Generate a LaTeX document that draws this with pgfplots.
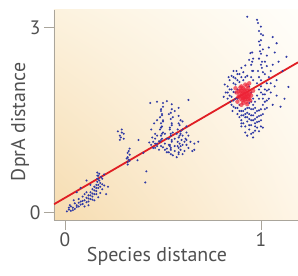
\documentclass[border=0pt]{standalone}
\usepackage{pgfplots}
\pgfplotsset{compat=1.18}
\usepackage{fontspec}
\setmainfont{PT Sans}
\usetikzlibrary{shadings}
\definecolor{dotblue}{RGB}{48,58,165}
\definecolor{dotred}{RGB}{238,36,56}
\definecolor{fitred}{RGB}{224,30,36}
\definecolor{txtgray}{RGB}{80,80,80}
\definecolor{axgray}{RGB}{170,165,155}
\begin{document}
\begin{tikzpicture}
\begin{axis}[
  at={(0,0)}, anchor=south west,
  scale only axis, width=244bp, height=210bp,
  xmin=-0.056, xmax=1.189, ymin=-0.12, ymax=3.29,
  axis x line*=bottom, axis y line*=left,
  axis line style={-, draw=axgray, line width=0.9bp},
  xtick={0,1}, ytick={0,3},
  tick align=outside, major tick length=10bp,
  tick style={draw=axgray, line width=0.9bp},
  /pgf/number format/assume math mode=true,
  tick label style={font=\fontsize{19.5}{22}\selectfont, text=txtgray},
  xticklabel style={yshift=1bp},
  xlabel={Species distance}, ylabel={DprA distance},
  label style={font=\fontsize{20}{24}\selectfont, text=txtgray},
  xlabel style={at={(axis description cs:0.422,-0.171)}, anchor=center},
  ylabel style={at={(axis description cs:-0.139,0.467)}, anchor=center, rotate=0},
  axis background/.style={shading=bilinear interpolation,
    lower left={rgb,255:red,246;green,220;blue,176},
    upper left={rgb,255:red,252;green,242;blue,222},
    upper right={rgb,255:red,255;green,254;blue,250},
    lower right={rgb,255:red,254;green,245;blue,230}},
  clip=true,
]
\addplot[only marks, mark=*, mark size=1.15bp, dotblue, draw opacity=0] coordinates {
(0.01,0.02)(0.02,0.05)(0.03,0.03)(0.04,0.08)(0.03,0.10)(0.05,0.06)(0.06,0.12)(0.05,0.15)
(0.07,0.10)(0.08,0.18)(0.07,0.22)(0.09,0.14)(0.10,0.20)(0.09,0.26)(0.11,0.24)(0.10,0.30)
(0.12,0.18)(0.12,0.28)(0.13,0.22)(0.13,0.33)(0.14,0.26)(0.14,0.38)(0.15,0.30)(0.15,0.42)
(0.16,0.35)(0.16,0.45)(0.165,0.50)(0.165,0.55)(0.17,0.60)(0.165,0.65)(0.17,0.40)(0.18,0.32)
(0.18,0.48)(0.19,0.38)(0.19,0.55)(0.20,0.44)(0.21,0.30)(0.22,0.42)(0.08,0.40)(0.06,0.33)
(0.11,0.52)(0.13,0.45)(0.045,0.20)(0.025,0.12)(0.15,0.20)(0.17,0.25)(0.20,0.62)(0.175,0.52)
(0.02,0.08)(0.04,0.04)(0.06,0.09)(0.08,0.13)(0.09,0.19)(0.11,0.17)(0.12,0.23)(0.13,0.28)
(0.14,0.31)(0.15,0.36)(0.16,0.40)(0.17,0.45)(0.18,0.42)(0.19,0.46)(0.16,0.30)(0.14,0.21)
(0.12,0.12)(0.10,0.10)(0.165,0.60)(0.17,0.55)(0.175,0.63)(0.185,0.58)(0.07,0.16)(0.11,0.33)
(0.28,1.25)(0.29,1.30)(0.285,1.22)(0.30,1.28)(0.29,1.35)(0.27,1.32)(0.30,1.20)(0.28,1.18)
(0.32,0.78)(0.32,0.82)(0.325,0.86)(0.32,0.90)(0.33,0.94)(0.32,0.97)(0.325,1.00)(0.33,1.04)
(0.315,0.88)(0.33,0.84)
(0.375,1.18)(0.415,0.67)(0.41,0.49)(0.37,0.85)(0.40,0.97)
(0.485,1.15)(0.495,1.20)(0.49,1.25)(0.50,1.30)(0.485,1.35)(0.495,1.40)(0.49,1.45)(0.50,1.50)
(0.485,1.55)(0.495,1.60)(0.49,1.65)(0.50,1.72)
(0.53,0.98)(0.54,1.05)(0.535,1.10)(0.545,1.15)(0.53,1.20)(0.54,1.25)(0.55,1.30)(0.535,1.38)
(0.545,1.45)(0.54,1.52)(0.53,1.60)(0.545,1.68)
(0.57,0.90)(0.58,0.95)(0.59,1.02)(0.575,1.08)(0.585,1.12)(0.595,1.18)(0.58,1.22)(0.59,1.28)
(0.575,1.35)(0.585,1.42)(0.59,1.50)(0.58,1.57)
(0.44,1.10)(0.45,1.15)(0.45,1.05)(0.46,1.20)(0.46,1.12)(0.47,1.08)(0.47,1.25)(0.48,1.02)
(0.48,1.16)(0.445,1.22)(0.50,1.06)(0.51,1.12)(0.52,1.04)(0.43,1.14)(0.46,1.28)
(0.61,1.00)(0.62,1.10)(0.615,1.20)(0.63,1.05)(0.64,1.15)(0.60,0.95)(0.62,1.30)(0.63,1.25)
(0.65,1.00)(0.66,1.12)(0.55,0.93)(0.56,1.00)(0.58,1.05)(0.52,0.98)(0.54,0.95)
(0.435,1.78)(0.47,1.80)(0.52,1.81)(0.63,1.83)(0.68,1.15)(0.66,1.02)(0.50,1.78)(0.545,1.76)
(0.56,1.65)(0.58,1.70)(0.60,1.48)(0.62,1.40)(0.455,1.45)(0.47,1.50)(0.44,1.35)
(0.49,1.18)(0.495,1.28)(0.49,1.38)(0.50,1.48)(0.495,1.58)(0.49,1.68)(0.54,1.02)(0.535,1.08)
(0.545,1.18)(0.54,1.28)(0.535,1.35)(0.545,1.42)(0.55,1.55)(0.54,1.62)(0.58,0.98)(0.59,1.08)
(0.575,1.15)(0.585,1.25)(0.59,1.32)(0.58,1.45)(0.47,1.12)(0.46,1.05)(0.49,1.08)(0.51,1.02)
(0.53,1.10)(0.56,1.08)(0.60,1.10)(0.61,1.15)(0.60,1.25)(0.62,1.18)(0.56,1.20)(0.57,1.28)
(0.52,1.20)(0.51,1.28)(0.60,1.35)
(0.82,1.95)(0.83,2.05)(0.83,1.85)(0.84,2.15)(0.84,1.90)(0.85,2.00)(0.85,1.75)(0.85,2.22)
(0.86,1.82)(0.86,2.10)(0.86,2.30)(0.87,1.95)(0.87,1.70)(0.87,2.18)(0.88,1.60)(0.88,1.85)
(0.88,2.25)(0.89,1.55)(0.89,1.75)(0.89,2.12)(0.90,1.50)(0.90,1.65)(0.90,2.20)(0.90,2.35)
(0.91,1.45)(0.91,1.58)(0.91,2.28)(0.92,1.40)(0.92,1.55)(0.92,1.68)(0.93,1.48)(0.93,1.62)
(0.93,2.22)(0.94,1.35)(0.94,1.52)(0.94,1.70)(0.95,1.42)(0.95,1.58)(0.95,1.80)(0.96,1.30)
(0.96,1.50)(0.96,1.68)(0.97,1.45)(0.97,1.62)(0.98,1.38)(0.98,1.55)(0.99,1.48)(0.99,1.66)
(1.00,1.40)(1.00,1.58)(1.01,1.75)(0.81,1.88)(0.815,2.08)(0.835,2.20)(0.845,1.80)(0.855,1.65)
(0.875,2.30)(0.88,2.00)(0.94,2.05)(0.95,1.95)(0.96,1.85)
(0.99,1.85)(1.00,1.95)(1.00,2.05)(1.01,1.92)(1.02,1.80)(1.02,2.00)(1.03,1.70)(1.03,2.10)
(1.04,1.85)(1.04,2.20)(1.05,1.95)(1.05,2.30)(1.06,1.75)(1.06,2.40)(1.07,2.05)(1.08,2.15)
(1.08,1.90)(1.10,1.72)(1.12,1.85)(1.14,2.04)(1.13,2.53)(1.11,2.30)(1.09,2.45)(1.08,2.75)
(1.06,2.85)(1.07,2.60)
(0.98,2.10)(0.99,2.20)(0.985,2.30)(1.00,2.40)(0.99,2.50)(1.00,2.58)(1.01,2.65)(0.995,2.72)
(1.00,2.80)(1.01,2.88)(0.99,2.95)(1.00,3.02)(0.985,3.08)(0.98,3.13)(1.02,2.45)(1.02,2.25)
(1.03,2.55)(1.04,2.68)(1.03,2.38)
(0.95,2.20)(0.955,2.30)(0.95,2.40)(0.96,2.50)(0.955,2.60)(0.96,2.15)(0.94,2.48)
(0.93,3.18)(0.946,2.59)(0.92,2.39)
(0.92,1.30)(0.93,1.25)(0.95,1.28)(0.97,1.33)(0.99,1.32)(1.01,1.38)(0.90,1.40)(0.96,1.22)
(0.84,2.00)(0.85,1.88)(0.86,1.96)(0.86,2.20)(0.87,1.85)(0.87,2.08)(0.88,1.70)(0.88,2.15)
(0.89,1.65)(0.89,2.25)(0.90,1.58)(0.91,1.65)(0.91,2.15)(0.92,1.60)(0.92,2.20)(0.93,1.55)
(0.93,1.70)(0.94,1.60)(0.94,1.78)(0.95,1.50)(0.95,1.68)(0.96,1.58)(0.96,1.75)(0.97,1.52)
(0.97,1.70)(0.98,1.47)(0.98,1.65)(0.99,1.57)(1.00,1.50)(1.00,1.68)(1.01,1.60)(1.02,1.68)
(1.01,1.85)(1.02,1.92)(1.03,1.98)(1.03,1.82)(0.97,1.80)(0.98,1.90)(0.99,2.00)(1.00,2.15)
(1.01,2.28)(1.005,2.35)(0.995,2.62)(1.005,2.45)(1.00,2.90)(0.99,2.78)(0.96,2.30)(0.955,2.45)
(0.83,1.95)(0.86,1.72)(0.90,1.45)(0.94,1.42)(0.97,1.40)(1.04,2.00)(1.05,2.10)
};
\addplot[only marks, mark=*, mark size=2.2bp, dotred, draw opacity=0, fill opacity=0.7] coordinates {
(0.90,1.90)(0.91,1.95)(0.92,1.88)(0.93,1.92)(0.915,2.00)(0.905,1.82)(0.925,1.80)(0.895,1.98)
(0.935,2.02)(0.91,1.85)(0.92,1.97)(0.90,2.05)(0.94,1.86)(0.885,1.88)(0.93,1.76)(0.91,1.78)
(0.945,1.95)(0.875,1.95)(0.92,2.08)(0.90,1.75)(0.95,1.90)(0.925,1.93)(0.905,1.93)(0.915,1.87)
(0.935,1.84)(0.895,1.85)(0.88,1.80)(0.94,2.10)(0.96,1.98)(0.87,2.02)
(0.89,1.92)(0.90,1.98)(0.91,2.02)(0.93,1.98)(0.94,1.92)(0.92,1.84)(0.905,1.87)(0.925,1.87)
(0.915,1.92)(0.935,1.89)(0.895,2.03)(0.93,2.06)(0.885,1.97)(0.945,1.82)
};
\addplot[fitred, line width=1.8bp] coordinates {(-0.056,0.136)(1.189,2.44)};
\end{axis}
\pgfresetboundingbox
\path[use as bounding box] (-54bp,-56bp) rectangle (244bp,220bp);
\end{tikzpicture}
\end{document}
